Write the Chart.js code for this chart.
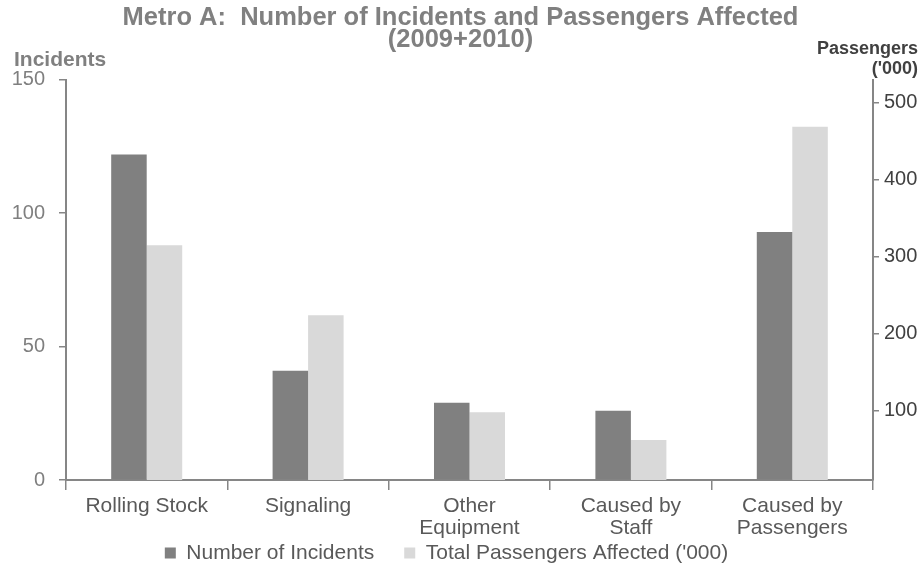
<!DOCTYPE html>
<html>
<head>
<meta charset="utf-8">
<script src="https://cdn.jsdelivr.net/npm/chart.js@4"></script>
<style>
  html, body { margin: 0; padding: 0; background: #fff; }
  #wrap { width: 921px; height: 568px; }
</style>
</head>
<body>
<div id="wrap"><canvas id="incidentChart" width="921" height="568"></canvas></div>
<script>
const categories = [["Rolling Stock"], ["Signaling"], ["Other", "Equipment"], ["Caused by", "Staff"], ["Caused by", "Passengers"]];
const incidents = [122, 41, 29, 26, 93];
const passengers = [315, 224, 98, 62, 469];
const incidentTicks = [0, 50, 100, 150];
const passengerTicks = [100, 200, 300, 400, 500];

const FONT = "'Liberation Sans', Arial, sans-serif";
const axisColor = "#868686";

// axis captions sit above the plot, not rotated
const axisTitles = {
    id: "axisTitles",
    afterDraw(chart) {
        const ctx = chart.ctx;
        const right = chart.scales.y1;
        ctx.save();
        ctx.textBaseline = "middle";
        ctx.font = "bold 21px " + FONT;
        ctx.fillStyle = "#808080";
        ctx.textAlign = "left";
        ctx.fillText("Incidents", 14, 60);
        ctx.font = "bold 18px " + FONT;
        ctx.fillStyle = "#404040";
        ctx.textAlign = "right";
        ctx.fillText("Passengers", right.right - 3, 49);
        ctx.fillText("('000)", right.right - 3, 69);
        ctx.restore();
    }
};

// legend padding is wide to space the two items apart; give it a short box
// in the layout, then stretch the box upward and nudge it left of centre
const legendFit = {
    id: "legendFit",
    beforeLayout(chart) {
        const lg = chart.legend;
        if (lg && !lg.fitPatched) {
            const fit = lg.fit;
            lg.fit = function () {
                fit.call(this);
                this.height = 30;
            };
            lg.fitPatched = true;
        }
    },
    afterUpdate(chart) {
        const lg = chart.legend;
        lg.left -= 14;
        lg.right -= 14;
        lg.top -= 25.5;
        lg.height = lg.bottom - lg.top;
    }
};

new Chart(document.getElementById("incidentChart"), {
    type: "bar",
    data: {
        labels: categories,
        datasets: [
            {
                label: "Number of Incidents",
                data: incidents,
                backgroundColor: "#808080",
                yAxisID: "y",
                barPercentage: 1,
                categoryPercentage: 0.44
            },
            {
                label: "Total Passengers Affected ('000)",
                data: passengers,
                backgroundColor: "#d9d9d9",
                yAxisID: "y1",
                barPercentage: 1,
                categoryPercentage: 0.44
            }
        ]
    },
    options: {
        responsive: false,
        animation: false,
        layout: { padding: 0 },
        plugins: {
            title: {
                display: true,
                text: ["Metro A:  Number of Incidents and Passengers Affected", "(2009+2010)"],
                color: "#808080",
                font: { family: FONT, size: 25.5, weight: "bold", lineHeight: 0.86 },
                padding: { top: 7, bottom: 29 }
            },
            legend: {
                position: "bottom",
                labels: {
                    color: "#595959",
                    font: { family: FONT, size: 21 },
                    boxWidth: 11,
                    boxHeight: 11,
                    padding: 30
                }
            },
            tooltip: { enabled: false }
        },
        scales: {
            x: {
                grid: { offset: true, drawOnChartArea: false, tickLength: 10, color: axisColor, lineWidth: 1.5 },
                border: { color: axisColor, width: 2 },
                ticks: { color: "#595959", font: { family: FONT, size: 21, lineHeight: 1.05 }, padding: 5, maxRotation: 0, autoSkip: false },
                afterFit: (s) => { s.height = 58; }
            },
            y: {
                position: "left",
                min: 0,
                max: 150,
                afterBuildTicks: (s) => { s.ticks = incidentTicks.map((v) => ({ value: v })); },
                grid: { drawOnChartArea: false, tickLength: 7, color: axisColor, lineWidth: 1.5 },
                border: { color: axisColor, width: 2 },
                ticks: { color: "#7f7f7f", font: { family: FONT, size: 20 }, padding: 14 },
                afterFit: (s) => { s.width = 66; }
            },
            y1: {
                position: "right",
                min: 10,
                max: 530,
                afterBuildTicks: (s) => { s.ticks = passengerTicks.map((v) => ({ value: v })); },
                grid: { drawOnChartArea: false, tickLength: 6, color: axisColor, lineWidth: 1.5 },
                border: { color: axisColor, width: 2 },
                ticks: { color: "#404040", font: { family: FONT, size: 20 }, padding: 5 },
                afterFit: (s) => { s.width = 48; }
            }
        }
    },
    plugins: [axisTitles, legendFit]
});
</script>
</body>
</html>
